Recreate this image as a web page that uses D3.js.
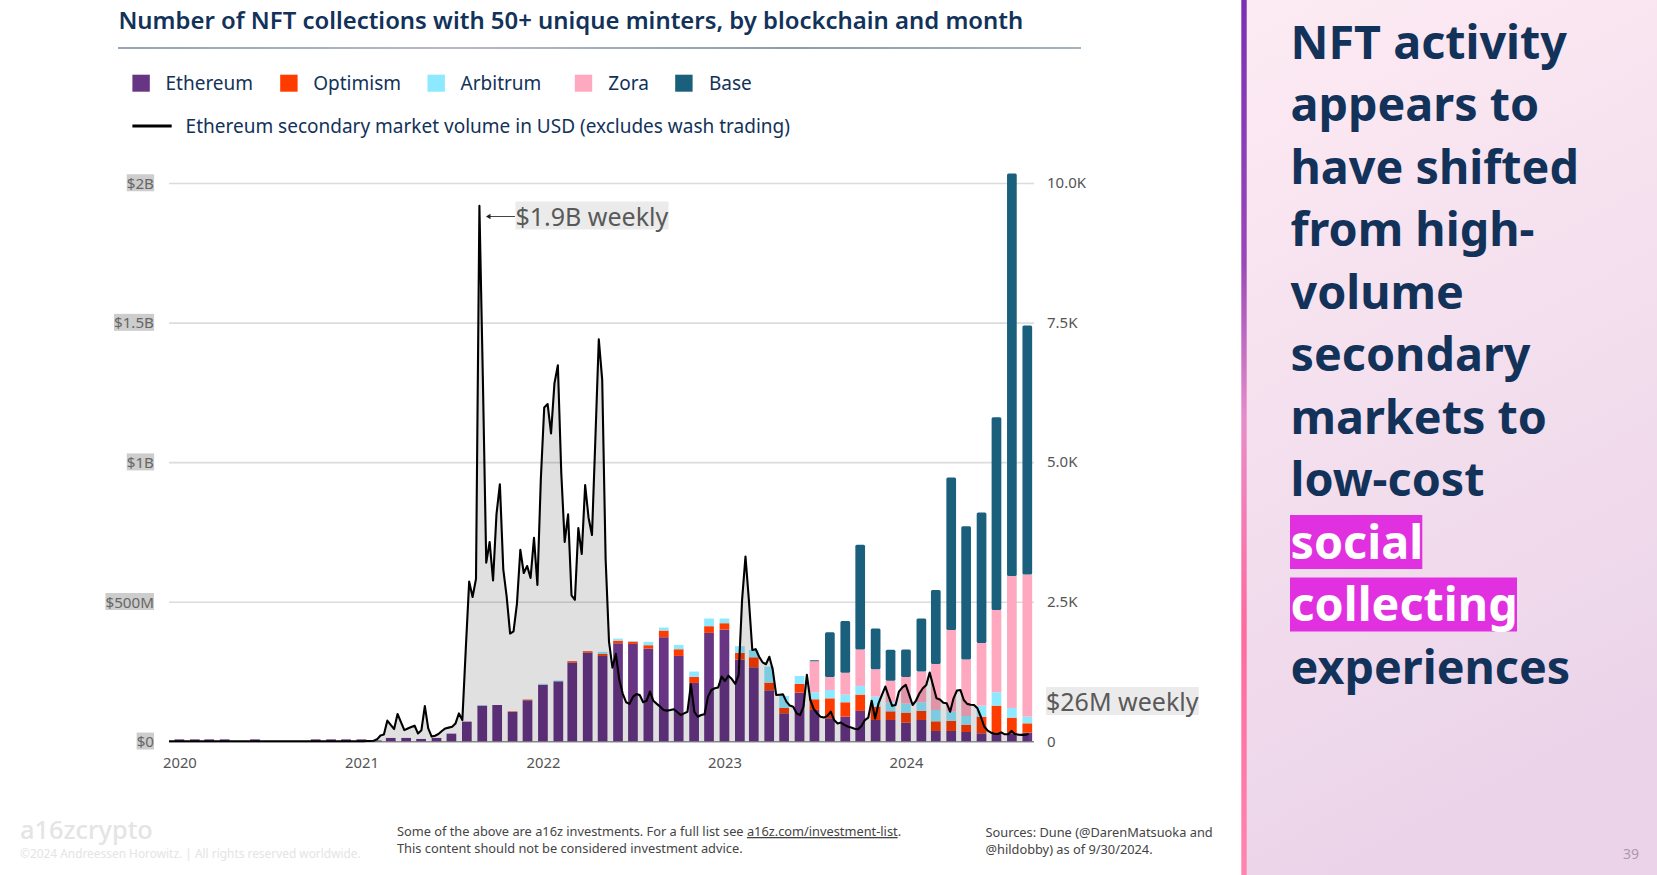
<!DOCTYPE html>
<html>
<head>
<meta charset="utf-8">
<script src="https://d3js.org/d3.v7.min.js"></script>
<title>NFT collections by blockchain</title>
<style>
	html, body { margin: 0; padding: 0; background: #fff; }
	svg { display: block; font-family: "Noto Sans", sans-serif; }
	svg text { font-family: "Noto Sans", sans-serif; }
</style>
</head>
<body>
<svg id="chart" width="1657" height="875"></svg>
<script>
// monthly bars, Jan 2020 - Sep 2024 (number of collections)
var seriesNames = ["Ethereum", "Optimism", "Arbitrum", "Zora", "Base"];
var seriesColors = ["#673584", "#ff3c00", "#8ce9ff", "#ffa9c1", "#1a5f7c"];

var ethereum = [
	35,35,35,35,0,35,0,0,0,35,35,35,
	35,15,60,60,42,60,137,352,640,650,525,735,
	1015,1075,1410,1589,1529,1756,1744,1661,1864,1529,1045,1942,
	2001,1464,1326,914,502,872,562,412,442,544,382,382,
	335,382,185,185,167,143,143,143,155];
var optimism = [
	0,0,0,0,0,0,0,0,0,0,0,0,
	0,0,0,0,0,0,0,0,0,0,10,12,
	0,0,24,24,36,48,42,60,120,120,108,120,
	114,120,179,137,96,155,191,358,257,293,239,155,
	179,161,173,179,131,299,496,281,167];
var arbitrum = [
	0,0,0,0,0,0,0,0,0,0,0,0,
	0,0,0,0,0,0,0,0,10,0,0,0,
	15,15,0,0,36,36,12,60,54,78,96,137,
	84,120,131,287,215,143,125,149,137,155,179,161,
	161,155,203,167,155,197,239,173,119];
var zora = [
	0,0,0,0,0,0,0,0,0,0,0,0,
	0,0,0,0,0,0,0,0,0,0,0,0,
	0,0,0,0,0,0,0,0,0,0,0,0,
	0,0,0,0,0,0,556,233,394,651,490,388,
	478,550,824,1464,1010,1123,1476,2366,2545];
var base = [
	0,0,0,0,0,0,0,0,0,0,0,0,
	0,0,0,0,0,0,0,0,0,0,0,0,
	0,0,0,0,0,0,0,0,0,0,0,0,
	0,0,0,0,0,0,18,800,926,1876,729,556,
	490,950,1326,2729,2388,2335,3452,7209,4461];

// weekly secondary volume in $M
var volume = [
	0,0,0,0,0,0,0,0,0,0,0,0,0,0,0,0,0,0,0,0,
	0,0,0,0,0,0,0,0,0,0,0,0,0,0,0,0,0,0,0,0,
	0,0,0,0,0,0,0,0,0,0,0,0,0,0,0,0,0,0,1,1,
	2,7,21,24,74,59,44,98,69,40,46,51,56,28,40,126,46,17,20,26,
	37,46,49,52,64,100,76,330,572,517,582,1918,1307,640,714,576,813,921,616,517,
	386,394,492,686,603,628,585,729,560,937,1196,1208,1103,1282,1347,961,714,813,523,507,
	764,671,918,801,739,1085,1440,1295,653,356,264,313,221,171,140,134,159,169,166,140,
	145,178,145,134,124,112,110,112,115,105,94,100,106,204,106,88,94,97,160,184,
	190,193,232,216,235,223,206,238,506,662,506,327,330,303,283,276,303,256,166,167,
	168,142,128,124,100,94,124,238,148,116,100,88,85,91,106,76,64,67,59,53,
	49,45,43,55,76,85,145,82,136,166,196,160,127,130,178,193,202,166,130,146,
	172,190,202,246,200,154,150,138,136,106,154,182,184,148,134,131,130,118,88,53,
	38,31,27,26,32,25,25,37,26,24,23,23,26];

var yearTicks = [2020, 2021, 2022, 2023, 2024];
var volumeTicks = [0, 500, 1000, 1500, 2000];
var volumeLabels = ["$0", "$500M", "$1B", "$1.5B", "$2B"];
var countTicks = [0, 2500, 5000, 7500, 10000];
var countLabels = ["0", "2.5K", "5.0K", "7.5K", "10.0K"];
var headline = ["NFT activity", "appears to", "have shifted", "from high-", "volume", "secondary", "markets to", "low-cost", "social", "collecting", "experiences"];

var navy = "#12325a";
var months = d3.utcMonth.range(new Date(Date.UTC(2020, 0, 1)), new Date(Date.UTC(2024, 9, 1)));
var allSeries = [ethereum, optimism, arbitrum, zora, base];

var svg = d3.select("#chart");
var defs = svg.append("defs");

function gradient(id, attrs, stops) {
	var g = defs.append("linearGradient").attr("id", id);
	Object.keys(attrs).forEach(function(k){ g.attr(k, attrs[k]); });
	stops.forEach(function(s){
		g.append("stop").attr("offset", s[0]).attr("stop-color", s[1]);
	});
}
gradient("panelBg", {x1: 0, y1: 0, x2: 0.25, y2: 1}, [[0, "#fdebf3"], [1, "#ebd4e9"]]);
gradient("panelBar", {x1: 0, y1: 0, x2: 0, y2: 1}, [[0, "#7b30b4"], [0.3, "#9a48ba"], [0.48, "#e88dca"], [0.72, "#ff6a9e"], [1, "#ff86ae"]]);
gradient("rule", {gradientUnits: "userSpaceOnUse", x1: 118, y1: 0, x2: 1081, y2: 0}, [[0, "#2c4a70"], [0.35, "#6b7498"], [0.7, "#1d3a60"], [1, "#4a6a7c"]]);

// scales
var x = d3.scaleUtc().domain([months[0], months[months.length - 1]]).range([179.4, 1027.3]);
var yVolume = d3.scaleLinear().domain([0, 2000]).range([741.3, 183]);
var yCount = d3.scaleLinear().domain([0, 10000]).range([741.3, 183]);
var xWeek = d3.scaleLinear().domain([0, volume.length - 1]).range([169, 1028.6]);

// right axis also draws the gridlines
var gridRight = 1034, gridLeft = 169;
var rightAxis = svg.append("g")
	.attr("transform", "translate(" + gridRight + ",0)")
	.call(d3.axisRight(yCount)
		.tickValues(countTicks)
		.tickFormat(function(d,i){ return countLabels[i]; })
		.tickSize(0)
		.tickPadding(13));
rightAxis.select(".domain").remove();
rightAxis.selectAll("text").attr("fill", "#555").style("font-size", "15px");
rightAxis.selectAll("line")
	.attr("x2", gridLeft - gridRight)
	.attr("stroke", function(d){ return d === 0 ? "#8a8a8a" : "#dcdcdc"; })
	.attr("stroke-width", 1.6);

// stacked bars
var stackRows = months.map(function(m,i){
	var row = {month: m};
	seriesNames.forEach(function(name,j){ row[name] = allSeries[j][i]; });
	return row;
});
var stacked = d3.stack().keys(seriesNames)(stackRows);
var barWidth = 9.7;

svg.append("g").selectAll("g")
	.data(stacked)
	.enter()
	.append("g")
		.attr("fill", function(d,i){ return seriesColors[i]; })
	.selectAll("rect")
	.data(function(d){ return d; })
	.enter()
	.filter(function(d){ return d[1] > d[0]; })
	.append("rect")
		.attr("x", function(d){ return x(d.data.month) - barWidth/2; })
		.attr("width", barWidth)
		.attr("y", function(d){ return yCount(d[1]); })
		.attr("height", function(d){ return yCount(d[0]) - yCount(d[1]); })
		.attr("rx", function(){ return this.parentNode.__data__.key === "Base" ? 1.5 : 0; });

// volume area + line sit on top of the bars
var area = d3.area()
	.x(function(d,i){ return xWeek(i); })
	.y0(yVolume(0))
	.y1(function(d){ return yVolume(d); });
var line = d3.line()
	.x(function(d,i){ return xWeek(i); })
	.y(function(d){ return yVolume(d); });

svg.append("path").datum(volume).attr("d", area).attr("fill", "#000").attr("fill-opacity", 0.12);
svg.append("path").datum(volume).attr("d", line)
	.attr("fill", "none").attr("stroke", "#000").attr("stroke-width", 2.1).attr("stroke-linejoin", "round");

// text with a flat box behind it
function boxed(sel, fill, padX, padY) {
	sel.each(function(){
		var b = this.getBBox();
		d3.select(this.parentNode).insert("rect", "text")
			.attr("x", b.x - padX).attr("y", b.y - padY)
			.attr("width", b.width + 2*padX).attr("height", b.height + 2*padY)
			.attr("fill", fill);
	});
}

// left axis
var leftAxis = svg.append("g")
	.attr("transform", "translate(154,0.4)")
	.call(d3.axisLeft(yVolume)
		.tickValues(volumeTicks)
		.tickFormat(function(d,i){ return volumeLabels[i]; })
		.tickSize(0)
		.tickPadding(0));
leftAxis.select(".domain").remove();
leftAxis.selectAll("line").remove();
leftAxis.selectAll("text").attr("fill", "#666").style("font-size", "15.2px");
boxed(leftAxis.selectAll("text"), "#cdcdcd", 0, -1.5);

// bottom axis
var bottomAxis = svg.append("g")
	.attr("transform", "translate(0,741.3)")
	.call(d3.axisBottom(x)
		.tickValues(yearTicks.map(function(y){ return new Date(Date.UTC(y, 0, 1)); }))
		.tickFormat(d3.utcFormat("%Y"))
		.tickSize(0)
		.tickPadding(16));
bottomAxis.select(".domain").remove();
bottomAxis.selectAll("text").attr("fill", "#555").style("font-size", "14.8px");

// annotations
function note(txt, tx, ty) {
	var g = svg.append("g");
	g.append("text").attr("x", tx).attr("y", ty).attr("fill", "#595959")
		.style("font-size", "25px").text(txt);
	boxed(g.selectAll("text"), "#ebebeb", 0, -3);
}
note("$1.9B weekly", 515.5, 225.5);
note("$26M weekly", 1046, 711);
svg.append("line").attr("x1", 515).attr("x2", 490).attr("y1", 216.5).attr("y2", 216.5).attr("stroke", "#444").attr("stroke-width", 1);
svg.append("path").attr("d", d3.symbol().type(d3.symbolTriangle).size(12)).attr("fill", "#222")
	.attr("transform", "translate(489,216.5) rotate(-90)");

// title
svg.append("text").attr("x", 118.4).attr("y", 29).attr("fill", navy)
	.style("font-size", "23.9px").style("font-weight", 600)
	.text("Number of NFT collections with 50+ unique minters, by blockchain and month");
svg.append("line").attr("x1", 118).attr("x2", 1081).attr("y1", 48).attr("y2", 48)
	.attr("stroke", "url(#rule)").attr("stroke-width", 1.2);

// legend
var legendBoxX = [132.4, 280.2, 427.5, 574.8, 675.2];
var legendTextX = [165.5, 313.2, 460.6, 608.3, 709];
var legend = svg.append("g");
legend.selectAll("rect").data(seriesNames).enter().append("rect")
	.attr("x", function(d,i){ return legendBoxX[i]; })
	.attr("y", 74.7).attr("width", 17.4).attr("height", 17)
	.attr("fill", function(d,i){ return seriesColors[i]; });
legend.selectAll("text").data(seriesNames).enter().append("text")
	.attr("x", function(d,i){ return legendTextX[i]; })
	.attr("y", 90).attr("fill", navy).style("font-size", "19px")
	.text(function(d){ return d; });
legend.append("line").attr("x1", 132.4).attr("x2", 171.7).attr("y1", 126).attr("y2", 126)
	.attr("stroke", "#000").attr("stroke-width", 3);
legend.append("text").attr("x", 185.6).attr("y", 132.5).attr("fill", navy).style("font-size", "19px")
	.text("Ethereum secondary market volume in USD (excludes wash trading)");

// right panel
svg.append("rect").attr("x", 1246).attr("y", 0).attr("width", 411).attr("height", 875).attr("fill", "url(#panelBg)");
svg.append("rect").attr("x", 1241.3).attr("y", 0).attr("width", 5.4).attr("height", 875).attr("fill", "url(#panelBar)");

var lineY = d3.scaleLinear().domain([0, headline.length - 1]).range([58.6, 683.6]);
var highlightEnd = {social: 1422.3, collecting: 1517};
svg.append("g").selectAll("rect")
	.data(["social", "collecting"])
	.enter().append("rect")
		.attr("x", 1290)
		.attr("y", function(d){ return lineY(headline.indexOf(d)) - 43.6; })
		.attr("width", function(d){ return highlightEnd[d] - 1290; })
		.attr("height", 54)
		.attr("fill", "#e030e0");
svg.append("g").selectAll("text")
	.data(headline)
	.enter().append("text")
		.attr("x", 1290.5)
		.attr("y", function(d,i){ return lineY(i); })
		.attr("fill", function(d){ return highlightEnd[d] ? "#fff" : navy; })
		.style("font-size", "46.7px").style("font-weight", 700)
		.text(function(d){ return d; });
svg.append("text").attr("x", 1639).attr("y", 859).attr("text-anchor", "end").attr("fill", "#aa9aa8")
	.style("font-size", "14px").text("39");

// footer
svg.append("text").attr("x", 20).attr("y", 839).attr("fill", "#e4e4e4")
	.style("font-size", "25.3px").style("font-weight", 500).text("a16zcrypto");
svg.append("text").attr("x", 20).attr("y", 858).attr("fill", "#e4e4e4")
	.style("font-size", "11.9px").text("©2024 Andreessen Horowitz.  |  All rights reserved worldwide.");
var disc = svg.append("text").attr("x", 397).attr("y", 836).attr("fill", "#444").style("font-size", "12.8px");
disc.append("tspan").text("Some of the above are a16z investments. For a full list see ");
disc.append("tspan").attr("text-decoration", "underline").text("a16z.com/investment-list");
disc.append("tspan").text(".");
svg.append("text").attr("x", 397).attr("y", 853).attr("fill", "#444").style("font-size", "12.8px")
	.text("This content should not be considered investment advice.");
svg.append("text").attr("x", 985.5).attr("y", 837).attr("fill", "#444").style("font-size", "12.8px")
	.text("Sources: Dune (@DarenMatsuoka and");
svg.append("text").attr("x", 985.5).attr("y", 854).attr("fill", "#444").style("font-size", "12.8px")
	.text("@hildobby) as of 9/30/2024.");
</script>
</body>
</html>
